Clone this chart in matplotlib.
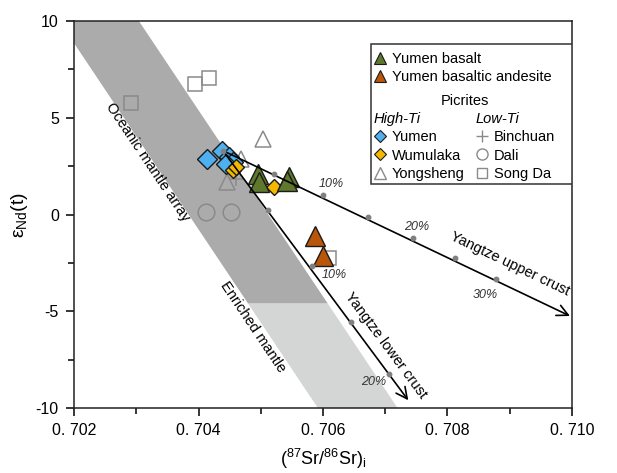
import numpy as np
import matplotlib.pyplot as plt
from matplotlib.lines import Line2D
from matplotlib.patches import Rectangle
from matplotlib.ticker import MultipleLocator

plt.rcParams['font.family'] = ['Liberation Sans', 'DejaVu Sans']
plt.rcParams['mathtext.fontset'] = 'custom'
plt.rcParams['mathtext.rm'] = 'Liberation Sans'
plt.rcParams['mathtext.it'] = 'Liberation Sans:italic'
plt.rcParams['axes.unicode_minus'] = False

# oceanic mantle array band (edges), split into dark upper / light lower part
band_eps = [10, -4.6, -10]
band_left = [0.70176, 0.704797, 0.70592]
band_right = [0.70304, 0.706077, 0.70720]

# samples: (87Sr/86Sr)i and eNd(t)
basalt_sr = [0.704956, 0.704972, 0.705454, 0.705422]
basalt_nd = [2.11, 1.70, 1.96, 1.75]
andesite_sr = [0.705871, 0.706000]
andesite_nd = [-1.13, -2.16]
yumen_sr = [0.70413, 0.70438, 0.70449, 0.70455, 0.70444]
yumen_nd = [2.87, 3.30, 2.99, 2.73, 2.63]
wumulaka_sr = [0.70455, 0.70461, 0.70521]
wumulaka_nd = [2.30, 2.44, 1.41]
yongsheng_sr = [0.70504, 0.70445, 0.70469]
yongsheng_nd = [3.92, 1.70, 2.85]
binchuan_sr = [0.70461]
binchuan_nd = [1.84]
dali_sr = [0.70412, 0.70452]
dali_nd = [0.12, 0.12]
songda_sr = [0.70291, 0.70394, 0.70417, 0.70610]
songda_nd = [5.74, 6.75, 7.06, -2.25]

# mixing lines (start -> arrow end) and 5% step points
mix_start = (0.70439, 3.30)
upper_end = (0.709968, -5.24)
upper_sr = [0.70439, 0.705213, 0.705995, 0.706723, 0.707441, 0.708120, 0.708774]
upper_nd = [3.30, 2.11, 1.02, -0.14, -1.22, -2.25, -3.31]
lower_end = (0.707370, -9.59)
lower_sr = [0.705121, 0.705819, 0.706445, 0.707065]
lower_nd = [0.21, -2.68, -5.55, -8.25]

pct_labels = ['10%', '20%', '30%', '10%', '20%']
pct_sr = [0.70614, 0.70751, 0.70860, 0.70618, 0.70682]
pct_nd = [1.6, -0.65, -4.18, -3.13, -8.66]

xticks = [0.702, 0.704, 0.706, 0.708, 0.710]
xticklabels = ['0. 702', '0. 704', '0. 706', '0. 708', '0. 710']
yticks = [-10, -5, 0, 5, 10]

c_green = '#5f782d'
c_brown = '#b9560a'
c_blue = '#4fb0f0'
c_yellow = '#f5b800'
c_gray = '#8a8a8a'
c_edge = '#1a1a1a'

fig = plt.figure(figsize=(6.17, 4.73), dpi=100)
ax = fig.add_axes([0.120, 0.137, 0.807, 0.819])

# band
ax.fill([band_left[0], band_right[0], band_right[1], band_left[1]],
        [band_eps[0], band_eps[0], band_eps[1], band_eps[1]],
        color='#ababab', lw=0, zorder=1)
ax.fill([band_left[1], band_right[1], band_right[2], band_left[2]],
        [band_eps[1], band_eps[1], band_eps[2], band_eps[2]],
        color='#d4d5d5', lw=0, zorder=1)

# picrites (open gray)
ax.plot(songda_sr, songda_nd, 's', ms=9.5, mfc='none', mec=c_gray, mew=1.1, zorder=3)
ax.plot(dali_sr, dali_nd, 'o', ms=12, mfc='none', mec=c_gray, mew=1.1, zorder=3)
ax.plot(yongsheng_sr, yongsheng_nd, '^', ms=12, mfc='none', mec=c_gray, mew=1.1, zorder=3)
ax.plot(binchuan_sr, binchuan_nd, '+', ms=10, mec=c_gray, mew=1.1, zorder=3)
ax.plot(yumen_sr, yumen_nd, 'D', ms=10, mfc=c_blue, mec=c_edge, mew=1.0, zorder=4)
ax.plot(wumulaka_sr, wumulaka_nd, 'D', ms=8, mfc=c_yellow, mec=c_edge, mew=1.0, zorder=4)

# Yumen lavas
ax.plot(basalt_sr, basalt_nd, '^', ms=14, mfc=c_green, mec=c_edge, mew=1.0, zorder=5)
ax.plot(andesite_sr, andesite_nd, '^', ms=14, mfc=c_brown, mec=c_edge, mew=1.0, zorder=5)

# mixing lines
for end in [upper_end, lower_end]:
    ax.annotate('', xy=end, xytext=mix_start, zorder=6,
                arrowprops=dict(arrowstyle='->', lw=1.2, color='k',
                                mutation_scale=20, shrinkA=0, shrinkB=0))
ax.plot(upper_sr, upper_nd, 'o', ms=3.2, color='#808080', zorder=7)
ax.plot(lower_sr, lower_nd, 'o', ms=3.2, color='#808080', zorder=7)
for s, x, y in zip(pct_labels, pct_sr, pct_nd):
    ax.text(x, y, s, fontsize=9, style='italic', color='#333333',
            ha='center', va='center', zorder=7)

# labels along band / lines
ax.text(0.70319, 2.73, 'Oceanic mantle array', rotation=-56.2, fontsize=10.5,
        ha='center', va='center', rotation_mode='anchor', zorder=2)
ax.text(0.70488, -5.82, 'Enriched mantle', rotation=-56.2, fontsize=10.5,
        ha='center', va='center', rotation_mode='anchor', zorder=2)
ax.text(0.70700, -6.75, 'Yangtze lower crust', rotation=-53.5, fontsize=10.5,
        ha='center', va='center', rotation_mode='anchor', zorder=7)
ax.text(0.70900, -2.53, 'Yangtze upper crust', rotation=-25.6, fontsize=10.5,
        ha='center', va='center', rotation_mode='anchor', zorder=7)

# axes
ax.set_xlim(0.702, 0.710)
ax.set_ylim(-10, 10)
ax.set_xticks(xticks)
ax.set_xticklabels(xticklabels)
ax.set_yticks(yticks)
ax.xaxis.set_minor_locator(MultipleLocator(0.001))
ax.yaxis.set_minor_locator(MultipleLocator(2.5))
ax.tick_params(which='major', direction='out', length=6, width=1.1, labelsize=11.5, pad=5)
ax.tick_params(which='minor', direction='out', length=4, width=1.1)
for sp in ax.spines.values():
    sp.set_linewidth(1.1)
    sp.set_color('#222222')
ax.set_xlabel(r'($^{87}$Sr/$^{86}$Sr)$_{\mathrm{i}}$', fontsize=13, labelpad=6)
ax.set_ylabel(r'ε$_{\mathrm{Nd}}$(t)', fontsize=14, labelpad=4)

# legend box
ax.add_patch(Rectangle((0.596, 0.578), 0.404, 0.362, transform=ax.transAxes,
                       facecolor='white', edgecolor='#333333', lw=1.1, zorder=8))
h_basalt = Line2D([], [], ls='none', marker='^', ms=8, mfc=c_green, mec=c_edge, mew=0.8)
h_andesite = Line2D([], [], ls='none', marker='^', ms=8, mfc=c_brown, mec=c_edge, mew=0.8)
h_yumen = Line2D([], [], ls='none', marker='D', ms=6, mfc=c_blue, mec=c_edge, mew=0.8)
h_wumulaka = Line2D([], [], ls='none', marker='D', ms=6, mfc=c_yellow, mec=c_edge, mew=0.8)
h_yongsheng = Line2D([], [], ls='none', marker='^', ms=8, mfc='none', mec=c_gray, mew=1.0)
h_binchuan = Line2D([], [], ls='none', marker='+', ms=9, mec=c_gray, mew=1.0)
h_dali = Line2D([], [], ls='none', marker='o', ms=8, mfc='none', mec=c_gray, mew=1.0)
h_songda = Line2D([], [], ls='none', marker='s', ms=7.5, mfc='none', mec=c_gray, mew=1.0)

common = dict(frameon=False, fontsize=10.5, handlelength=0.9, handletextpad=0.35,
              labelspacing=0.3, borderpad=0, borderaxespad=0, loc='upper left')
leg1 = ax.legend([h_basalt, h_andesite], ['Yumen basalt', 'Yumen basaltic andesite'],
                 bbox_to_anchor=(0.602, 0.920), **common)
ax.add_artist(leg1)
leg2 = ax.legend([h_yumen, h_wumulaka, h_yongsheng], ['Yumen', 'Wumulaka', 'Yongsheng'],
                 bbox_to_anchor=(0.602, 0.765), title='High-Ti', alignment='left',
                 title_fontproperties={'size': 10.5, 'style': 'italic'}, **common)
ax.add_artist(leg2)
leg3 = ax.legend([h_binchuan, h_dali, h_songda], ['Binchuan', 'Dali', 'Song Da'],
                 bbox_to_anchor=(0.806, 0.765), title='Low-Ti', alignment='left',
                 title_fontproperties={'size': 10.5, 'style': 'italic'}, **common)
for lg in [leg1, leg2, leg3]:
    lg.set_zorder(9)
ax.text(0.785, 0.793, 'Picrites', transform=ax.transAxes, fontsize=10.5,
        ha='center', va='center', zorder=9)

fig.savefig('out.png', dpi=100)
